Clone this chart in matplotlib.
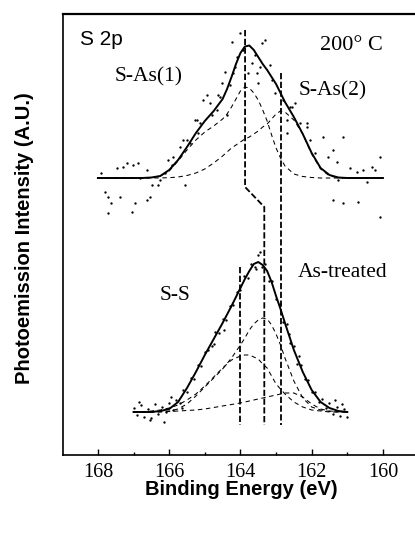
import matplotlib
matplotlib.use("Agg")
import matplotlib.pyplot as plt
import numpy as np

plt.rcParams['lines.scale_dashes'] = False

# ---------------- data (intensity above each spectrum's own baseline) ----------------
# upper spectrum: 200 C
up_E = [168.0, 167.5, 167.0, 166.75, 166.5, 166.25, 166.0, 165.75, 165.5, 165.25, 165.0,
        164.75, 164.5, 164.375, 164.25, 164.125, 164.0, 163.875, 163.75, 163.625, 163.5,
        163.375, 163.25, 163.125, 163.0, 162.875, 162.75, 162.5, 162.25, 162.0, 161.75,
        161.5, 161.25, 161.0, 160.5, 160.0]
up_fit = [0, 0, 0, 0, 0.5, 2, 8, 18, 31, 45, 57, 67, 79, 89, 101, 114, 125, 131.5, 132.5,
          128, 121, 114, 108, 101, 94, 85, 76, 61, 44, 25, 10, 3, 0.5, 0, 0, 0]
up_sas1 = [0, 0, 0, 0, 0.5, 2, 7, 17, 28, 38, 46, 52, 59, 64, 71, 79, 87, 91, 90, 85, 78,
           68, 57, 43, 30, 20, 12, 4, 1.5, 0.5, 0, 0, 0, 0, 0, 0]
up_sas2 = [0, 0, 0, 0, 0, 0.1, 0.3, 1, 2.5, 5, 9, 15, 22, 26, 30, 33, 36, 39, 41, 44, 47,
           51, 54, 59, 64, 67, 66, 58, 44, 24, 9, 2, 0.3, 0, 0, 0]

up_pts_E = [167.90, 167.80, 167.71, 167.62, 167.71, 167.47, 167.38, 167.29, 167.19, 167.05,
            167.01, 166.87, 166.82, 166.96, 166.63, 166.54, 166.49, 166.31, 166.26, 166.12,
            166.02, 165.93, 165.88, 165.70, 165.56, 165.51, 165.42, 165.28, 165.18, 165.13,
            165.04, 164.95, 164.85, 164.81, 164.67, 164.57, 164.53, 164.43, 164.38, 164.29,
            164.24, 164.15, 164.10, 164.01, 163.92, 163.78, 163.68, 163.59, 163.45, 163.40,
            163.31, 163.17, 163.12, 163.03, 162.80, 162.70, 162.56, 162.47, 162.33, 162.14,
            162.04, 161.90, 161.67, 161.53, 161.39, 161.30, 161.25, 161.11, 161.39, 161.11,
            160.92, 160.73, 160.69, 160.55, 160.45, 160.31, 160.22, 160.08, 160.08, 166.63,
            163.54, 163.50, 164.20, 162.70, 164.62, 165.23, 165.60, 162.61, 162.14]
up_pts_I = [5, -14, -19, -25, -35, 10, -19, 11, 15, -34, 13, 15, 0, -25, -22, -19, -7, -7,
            -2, 5, 18, 13, 21, 31, -7, 38, 35, 58, 45, 55, 78, 83, 75, 63, 68, 81, 95, 106,
            63, 93, 136, 111, 121, 145, 128, 105, 115, 123, 111, 135, 138, 113, 98, 85, 78,
            58, 71, 75, 55, 51, 38, 25, 41, 21, 28, 16, -2, 41, -22, -25, 10, 6, -24, 8, -4,
            11, 8, 21, -39, 8, 105, 95, 105, 45, 83, 58, 38, 71, 55]

# lower spectrum: As-treated
lo_E = [167.0, 166.75, 166.5, 166.25, 166.0, 165.75, 165.5, 165.25, 165.0, 164.75, 164.5,
        164.25, 164.0, 163.875, 163.75, 163.625, 163.5, 163.375, 163.25, 163.125, 163.0,
        162.875, 162.75, 162.5, 162.25, 162.0, 161.75, 161.5, 161.25, 161.0]
lo_fit = [0, 0, 0, 1, 3, 10, 24, 40, 57, 73, 89, 106, 124, 133, 141, 148, 150, 147, 141,
          130, 116, 103, 89, 62, 40, 22, 10, 4, 1, 0]
lo_sas1 = [0, 0, 0, 0.3, 1, 3, 8, 16, 25, 34, 43, 54, 67, 74, 82, 88, 92, 94, 93, 87, 78,
           67, 54, 31, 14, 5, 2, 0.5, 0, 0]
lo_ss = [0, 0, 1, 2, 4, 7, 12, 18, 26, 35, 44, 52, 56, 57, 57, 55, 53, 48, 44, 36, 28, 23,
         18, 10, 5, 2, 1, 0, 0, 0]
lo_sas2 = [0, 0, 0, 0, 0.5, 1, 1.5, 2, 3, 4.5, 6, 7.5, 9, 10, 11, 12, 13, 14, 15, 16, 17,
           18, 19, 19, 15, 8, 3, 1, 0.3, 0]

lo_pts_E = [167.0, 166.9, 166.8, 166.7, 166.6, 166.5, 166.4, 166.3, 166.2, 166.1, 166.0,
            165.9, 165.8, 165.7, 165.6, 165.5, 165.4, 165.3, 165.2, 165.1, 165.0, 164.9,
            164.8, 164.7, 164.6, 164.5, 164.4, 164.3, 164.2, 164.1, 164.0, 163.9, 163.8,
            163.7, 163.6, 163.5, 163.4, 163.3, 163.2, 163.1, 163.0, 162.9, 162.8, 162.7,
            162.6, 162.5, 162.4, 162.3, 162.2, 162.1, 162.0, 161.9, 161.8, 161.7, 161.6,
            161.5, 161.4, 161.3, 161.2, 161.1, 161.0, 166.85, 166.55, 166.15, 165.95,
            165.65, 161.35, 161.15, 162.35, 162.65, 164.45, 164.75, 163.45, 163.55]
lo_pts_I = [4, -3, 7, -5, 3, -6, 8, -2, 5, 0, 9, 2, 12, 9, 22, 20, 34, 33, 47, 46, 60, 62,
            66, 80, 79, 93, 92, 106, 107, 120, 122, 136, 134, 148, 145, 157, 145, 148, 131,
            131, 113, 108, 90, 88, 69, 66, 48, 47, 33, 32, 20, 20, 10, 13, 4, 9, -2, 5, -4,
            3, -5, 10, -8, -10, 15, 4, 12, 8, 56, 78, 82, 68, 160, 143]

# peak positions marked by vertical dashed lines
up_peaks = [163.87, 162.86]          # S-As(1), S-As(2) at 200 C
lo_peaks = [164.0, 163.33, 162.86]   # S-S, S-As(1), S-As(2) as-treated

# ---------------- layout ----------------
UP0 = 277   # baseline offset of upper spectrum
LO0 = 43    # baseline offset of lower spectrum

serif = ['Liberation Serif', 'DejaVu Serif']
sans = ['Liberation Sans', 'DejaVu Sans']

fig = plt.figure(figsize=(4.15, 5.35), dpi=100)
ax = fig.add_axes([63 / 415, 80 / 535, 352 / 415, 441 / 535])
ax.set_xlim(168.98, 159.1)
ax.set_ylim(0, 441)

comp_style = dict(color='black', lw=0.75, linestyle=(0, (3.2, 2.6)))
vline_style = dict(color='black', lw=1.3, linestyle=(0, (4.5, 1.8)))

# upper spectrum
ax.plot(up_pts_E, np.array(up_pts_I) + UP0, 'o', ms=1.7, mew=0, color='black')
ax.plot(up_E, np.array(up_sas1) + UP0, **comp_style)
ax.plot(up_E, np.array(up_sas2) + UP0, **comp_style)
ax.plot(up_E, np.array(up_fit) + UP0, color='black', lw=1.4)

# lower spectrum
ax.plot(lo_pts_E, np.array(lo_pts_I) + LO0, 'o', ms=1.7, mew=0, color='black')
ax.plot(lo_E, np.array(lo_sas1) + LO0, **comp_style)
ax.plot(lo_E, np.array(lo_ss) + LO0, **comp_style)
ax.plot(lo_E, np.array(lo_sas2) + LO0, **comp_style)
ax.plot(lo_E, np.array(lo_fit) + LO0, color='black', lw=1.4)

# vertical guide lines (upper S-As(1) bends to the lower S-As(1))
ax.plot([up_peaks[0], up_peaks[0], lo_peaks[1], lo_peaks[1]],
        [UP0 + 148, UP0 - 9, UP0 - 29, LO0 - 13], **vline_style)
ax.plot([up_peaks[1], lo_peaks[2]], [UP0 + 105, LO0 - 13], **vline_style)
ax.plot([lo_peaks[0], lo_peaks[0]], [LO0 + 145, LO0 - 13], **vline_style)

# labels
ax.text(168.5, 410, 'S 2p', family=sans, fontsize=15, va='baseline', ha='left')
ax.text(161.76, 405, '200° C', family=serif, fontsize=16, va='baseline', ha='left')
ax.text(167.52, 374, 'S-As(1)', family=serif, fontsize=15.5, va='baseline', ha='left')
ax.text(162.38, 360, 'S-As(2)', family=serif, fontsize=15.5, va='baseline', ha='left')
ax.text(166.26, 155, 'S-S', family=serif, fontsize=15.5, va='baseline', ha='left')
ax.text(162.38, 178, 'As-treated', family=serif, fontsize=15.5, va='baseline', ha='left')

# axes styling
ax.spines['right'].set_visible(False)
ax.spines['top'].set_linewidth(1.6)
ax.spines['left'].set_linewidth(1.2)
ax.spines['bottom'].set_linewidth(1.2)
ax.set_yticks([])
ax.set_xticks([168, 166, 164, 162, 160])
ax.set_xticks([167, 165, 163, 161], minor=True)
ax.tick_params(axis='x', which='major', direction='in', length=4, width=1, pad=5.5,
               labelsize=14.5)
ax.tick_params(axis='x', which='minor', direction='in', length=2.5, width=1)
for lbl in ax.get_xticklabels():
    lbl.set_family(serif)

fig.text(241 / 415, 40 / 535, 'Binding Energy (eV)', family=sans, fontweight='bold',
         fontsize=14.5, ha='center', va='baseline')
fig.text(25 / 415, 1 - 238 / 535, 'Photoemission Intensity (A.U.)', family=sans,
         fontweight='bold', fontsize=14.5, rotation=90, ha='center', va='center')

fig.savefig('out.png', dpi=100)
